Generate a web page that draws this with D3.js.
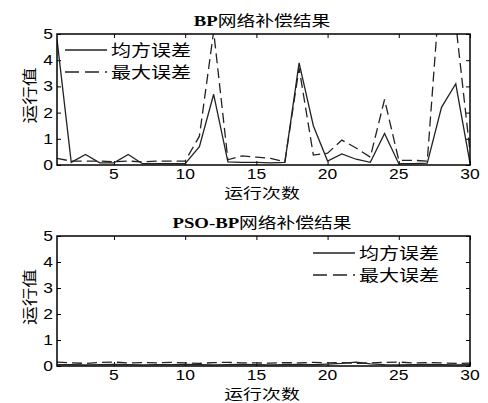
<!DOCTYPE html>
<html>
<head>
<meta charset="utf-8">
<script src="https://cdn.jsdelivr.net/npm/d3@7/dist/d3.min.js"></script>
<style>
  body { margin: 0; background: #fff; }
  svg { display: block; }
</style>
</head>
<body>
<svg id="chart" width="488" height="403"></svg>
<script>
const runs = [1, 2, 3, 4, 5, 6, 7, 8, 9, 10, 11, 12, 13, 14, 15, 16, 17, 18, 19, 20, 21, 22, 23, 24, 25, 26, 27, 28, 29, 30];
const xTicks = [5, 10, 15, 20, 25, 30];
const yTicks = [0, 1, 2, 3, 4, 5];

const bpMse = [4.8, 0.1, 0.4, 0.08, 0.08, 0.4, 0.05, 0.05, 0.05, 0.05, 0.7, 2.7, 0.12, 0.1, 0.1, 0.08, 0.1, 3.9, 1.5, 0.15, 0.42, 0.22, 0.1, 1.2, 0.05, 0.05, 0.07, 2.2, 3.1, 0.07];
const bpMax = [0.25, 0.15, 0.15, 0.15, 0.12, 0.15, 0.12, 0.15, 0.15, 0.15, 1.1, 5.1, 0.2, 0.35, 0.3, 0.25, 0.12, 3.7, 0.38, 0.45, 0.95, 0.65, 0.3, 2.5, 0.18, 0.18, 0.15, 7.5, 5.4, 0.5];

const psoMse = [0.05, 0.05, 0.04, 0.05, 0.06, 0.05, 0.04, 0.05, 0.05, 0.06, 0.05, 0.04, 0.05, 0.06, 0.05, 0.04, 0.05, 0.06, 0.05, 0.07, 0.1, 0.15, 0.08, 0.05, 0.04, 0.05, 0.06, 0.05, 0.04, 0.05];
const psoMax = [0.15, 0.12, 0.1, 0.14, 0.15, 0.12, 0.13, 0.12, 0.14, 0.12, 0.1, 0.13, 0.14, 0.12, 0.12, 0.11, 0.13, 0.12, 0.14, 0.12, 0.13, 0.1, 0.12, 0.14, 0.15, 0.12, 0.13, 0.12, 0.1, 0.11];

const legendNames = ["均方误差", "最大误差"];

const svg = d3.select("#chart");
const cjk = "'Noto Sans CJK SC', sans-serif";
const num = "'Liberation Sans', Arial, sans-serif";
const sx = 1.25; // text in the original is stretched sideways

function stretchText(parent, x, y, str, size, anchor, rot, k) {
    return parent.append("text")
        .attr("transform", `translate(${x},${y})` + (rot ? ` rotate(${rot})` : "") + ` scale(${k || sx},1)`)
        .attr("text-anchor", anchor || "start")
        .attr("font-size", size)
        .attr("font-family", cjk)
        .attr("fill", "#000")
        .text(str);
}

function drawPanel(cfg) {
    const left = 57, right = 470;
    const x = d3.scaleLinear().domain([1, 30]).range([left, right]);
    const y = d3.scaleLinear().domain([0, 5]).range([cfg.bottom, cfg.top]);
    const g = svg.append("g");
    const clipId = "clip" + cfg.id;

    g.append("clipPath").attr("id", clipId)
      .append("rect")
        .attr("x", left).attr("y", cfg.top)
        .attr("width", right - left).attr("height", cfg.bottom - cfg.top);

    // ticks on all four sides, pointing inwards
    g.append("g")
        .attr("transform", `translate(0,${cfg.bottom})`)
        .call(d3.axisBottom(x).tickValues(xTicks).tickSizeInner(-4).tickSizeOuter(0).tickFormat(""))
        .call(a => a.select(".domain").remove());
    g.append("g")
        .attr("transform", `translate(0,${cfg.top})`)
        .call(d3.axisTop(x).tickValues(xTicks).tickSizeInner(-4).tickSizeOuter(0).tickFormat(""))
        .call(a => a.select(".domain").remove());
    g.append("g")
        .attr("transform", `translate(${left},0)`)
        .call(d3.axisLeft(y).tickValues(yTicks).tickSizeInner(-4).tickSizeOuter(0).tickFormat(""))
        .call(a => a.select(".domain").remove());
    g.append("g")
        .attr("transform", `translate(${right},0)`)
        .call(d3.axisRight(y).tickValues(yTicks).tickSizeInner(-4).tickSizeOuter(0).tickFormat(""))
        .call(a => a.select(".domain").remove());
    g.selectAll(".tick line").attr("stroke", "#000").attr("stroke-width", 1);

    xTicks.forEach(t => {
        stretchText(g, x(t), cfg.bottom + 14, t, 14, "middle").attr("font-family", num);
    });
    yTicks.forEach(t => {
        stretchText(g, left - 4, y(t) + 5, t, 14, "end").attr("font-family", num);
    });

    const line = d3.line().x((d, i) => x(runs[i])).y(d => y(d));
    const plot = g.append("g").attr("clip-path", `url(#${clipId})`);
    plot.append("path")
        .attr("d", line(cfg.mse))
        .attr("fill", "none").attr("stroke", "#222").attr("stroke-width", 1.3);
    plot.append("path")
        .attr("d", line(cfg.max))
        .attr("fill", "none").attr("stroke", "#222").attr("stroke-width", 1.3)
        .attr("stroke-dasharray", "10,5");

    g.append("rect")
        .attr("x", left).attr("y", cfg.top)
        .attr("width", right - left).attr("height", cfg.bottom - cfg.top)
        .attr("fill", "none").attr("stroke", "#000").attr("stroke-width", 1.5);

    // title
    const title = stretchText(g, 0, cfg.top - 8, "", 15, "middle");
    title.attr("transform", `translate(262,${cfg.top - 8}) scale(${sx},1)`);
    title.append("tspan").attr("font-family", "'Liberation Serif', serif").attr("font-weight", "bold").text(cfg.titleLatin);
    title.append("tspan").text("网络补偿结果");

    stretchText(g, 262, cfg.bottom + 33, "运行次数", 13.5, "middle", null, 1.4);
    stretchText(g, 35, (cfg.top + cfg.bottom) / 2 - 4, "运行值", 15, "middle", -90);

    // legend
    legendNames.forEach((name, i) => {
        const ly = cfg.legendY + i * 22;
        g.append("line")
            .attr("x1", cfg.legendX).attr("x2", cfg.legendX + 42)
            .attr("y1", ly).attr("y2", ly)
            .attr("stroke", "#222").attr("stroke-width", 1.3)
            .attr("stroke-dasharray", i === 1 ? "14,6" : null);
        stretchText(g, cfg.legendX + 46, ly + 6, name, 16, "start");
    });
}

drawPanel({ id: 1, top: 34, bottom: 165, mse: bpMse, max: bpMax, titleLatin: "BP", legendX: 65, legendY: 50 });
drawPanel({ id: 2, top: 236, bottom: 366, mse: psoMse, max: psoMax, titleLatin: "PSO-BP", legendX: 313, legendY: 253 });
</script>
</body>
</html>
